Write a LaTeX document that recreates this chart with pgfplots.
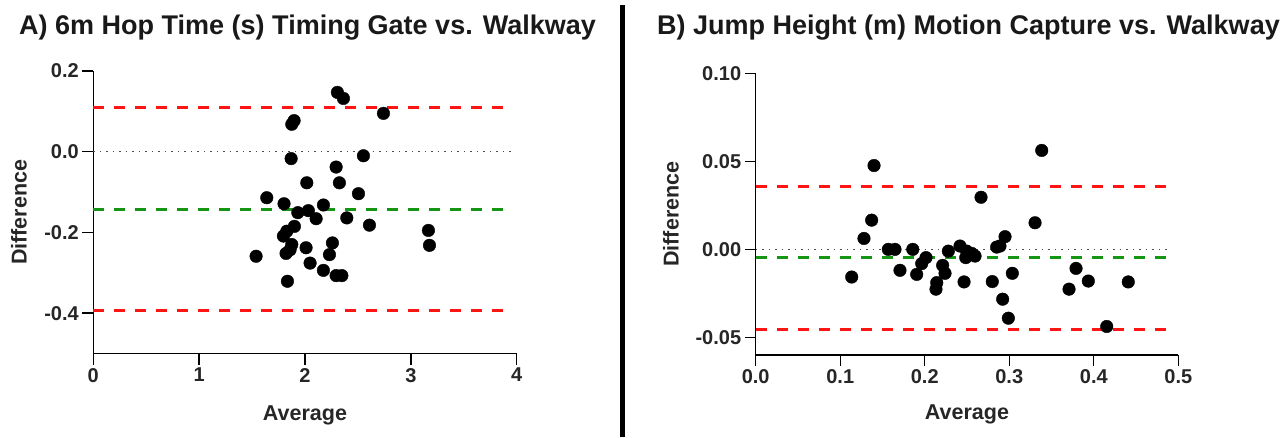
\documentclass[border=0pt]{standalone}
\usepackage{fontspec}
\setmainfont{Liberation Sans}
\usepackage{pgfplots}
\pgfplotsset{compat=1.18}

\definecolor{lared}{RGB}{255,20,20}
\definecolor{lagreen}{RGB}{20,150,20}

\pgfplotsset{
  ba/.style={
    scale only axis,
    axis lines=left,
    axis line style={-, line width=1.4pt},
    tick align=outside,
    major tick length=11pt,
    tick style={black, line width=1.4pt},
    ticklabel style={font=\fontsize{20}{24}\selectfont\bfseries, text=black!85},
    label style={font=\fontsize{21.5}{26}\selectfont\bfseries, text=black!85},
    clip=false,
  },
  pts/.style={only marks, mark=*, mark size=6.3pt, black},
  loa/.style={lared, line width=3pt, dash pattern=on 11pt off 10pt},
  bias/.style={lagreen, line width=3pt, dash pattern=on 11pt off 10pt},
  zero/.style={black!70, line width=1.3pt, dash pattern=on 1.5pt off 5pt},
}

\pgfplotstableread{
x y
2.306 0.147
2.363 0.132
2.741 0.095
1.875 0.068
1.897 0.077
1.869 -0.017
2.552 -0.010
2.294 -0.038
2.017 -0.077
2.325 -0.077
2.505 -0.104
1.639 -0.114
1.802 -0.129
2.174 -0.132
1.932 -0.151
2.032 -0.146
2.105 -0.166
2.395 -0.164
2.609 -0.182
1.900 -0.185
1.828 -0.197
1.796 -0.209
3.166 -0.195
3.176 -0.232
1.875 -0.230
1.859 -0.243
1.821 -0.252
2.010 -0.238
2.259 -0.226
2.231 -0.255
1.538 -0.259
2.048 -0.276
2.174 -0.294
2.294 -0.307
2.348 -0.307
1.834 -0.321
}\hop

\pgfplotstableread{
x y
0.1400 0.0476
0.2666 0.0296
0.1372 0.0166
0.1281 0.0062
0.1136 -0.0157
0.1569 0.0000
0.1648 0.0000
0.1858 0.0000
0.1707 -0.0119
0.2015 -0.0047
0.1964 -0.0081
0.1905 -0.0142
0.2279 -0.0010
0.2212 -0.0091
0.2240 -0.0136
0.2142 -0.0189
0.2133 -0.0226
0.2417 0.0019
0.2496 -0.0010
0.2556 -0.0023
0.2595 -0.0038
0.2485 -0.0047
0.2465 -0.0185
0.2799 -0.0183
0.2950 0.0072
0.2890 0.0019
0.2851 0.0013
0.3036 -0.0136
0.2922 -0.0283
0.2989 -0.0391
0.3384 0.0562
0.3305 0.0151
0.3790 -0.0108
0.3707 -0.0226
0.3935 -0.0180
0.4408 -0.0185
0.4153 -0.0438
}\jump

\begin{document}
\begin{tikzpicture}[x=1pt,y=1pt]
\path[use as bounding box] (0,0) rectangle (1287,437);

% panel A
\begin{axis}[ba,
  at={(93.3pt,83.5pt)}, anchor=south west,
  width=423.4pt, height=282.5pt,
  xmin=0, xmax=4, ymin=-0.5, ymax=0.2,
  xtick={0,1,2,3,4},
  xticklabels={0,1,2,3,4},
  ytick={-0.4,-0.2,0,0.2},
  yticklabels={-0.4,-0.2,0.0,0.2},
  xlabel={Average}, ylabel={Difference},
  xlabel style={at={(axis description cs:0.5,-0.2354)}, anchor=base},
  ylabel style={at={(axis description cs:-0.1755,0.5)}, anchor=center},
]
\addplot[loa] coordinates {(0,0.110) (3.96,0.110)};
\addplot[loa] coordinates {(0,-0.394) (3.96,-0.394)};
\addplot[bias] coordinates {(0,-0.142) (3.96,-0.142)};
\addplot[zero] coordinates {(0,0) (3.96,0)};
\addplot[pts] table {\hop};
\end{axis}

% panel B
\begin{axis}[ba,
  at={(755.7pt,82pt)}, anchor=south west,
  width=422.6pt, height=281.7pt,
  xmin=0, xmax=0.5, ymin=-0.06, ymax=0.10,
  xtick={0,0.1,0.2,0.3,0.4,0.5},
  xticklabels={0.0,0.1,0.2,0.3,0.4,0.5},
  ytick={-0.05,0,0.05,0.10},
  yticklabels={-0.05,0.00,0.05,0.10},
  xlabel={Average}, ylabel={Difference},
  xlabel style={at={(axis description cs:0.5,-0.2307)}, anchor=base},
  ylabel style={at={(axis description cs:-0.2004,0.5)}, anchor=center},
]
\addplot[loa] coordinates {(0,0.0355) (0.488,0.0355)};
\addplot[loa] coordinates {(0,-0.0453) (0.488,-0.0453)};
\addplot[bias] coordinates {(0,-0.0049) (0.488,-0.0049)};
\addplot[zero] coordinates {(0,0) (0.492,0)};
\addplot[pts] table {\jump};
\end{axis}

\node[anchor=base west, inner sep=0, font=\fontsize{27}{32}\selectfont\bfseries, text=black!90]
  at (19,402) {A) 6m Hop Time (s) Timing Gate vs. Walkway};
\node[anchor=base west, inner sep=0, font=\fontsize{27}{32}\selectfont\bfseries, text=black!90]
  at (657,402) {B) Jump Height (m) Motion Capture vs. Walkway};
\draw[line width=5.5pt] (622.5,0) -- (622.5,432);
\end{tikzpicture}
\end{document}
